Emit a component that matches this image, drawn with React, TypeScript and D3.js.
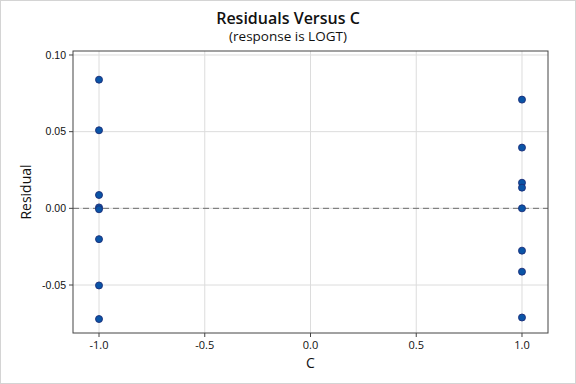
import React from "react";
import * as d3 from "d3";

const title = "Residuals Versus C";
const subtitle = "(response is LOGT)";
const xLabel = "C";
const yLabel = "Residual";

const cLow = [-1, -1, -1, -1, -1, -1, -1, -1];
const residLow = [0.0839, 0.0509, 0.0087, 0.0006, -0.0006, -0.0201, -0.0503, -0.0722];
const cHigh = [1, 1, 1, 1, 1, 1, 1, 1];
const residHigh = [0.0709, 0.0396, 0.0167, 0.0135, 0.0, -0.0276, -0.0413, -0.0712];

const xTicks = [-1.0, -0.5, 0.0, 0.5, 1.0];
const yTicks = [0.1, 0.05, 0.0, -0.05];

const W = 576;
const H = 384;
const FONT = "'Open Sans', 'Noto Sans', sans-serif";
const FONT_Y = "'Liberation Sans', Arial, sans-serif";

export default function App() {
  const x = d3.scaleLinear().domain([-1.123, 1.123]).range([73, 548]);
  const y = d3.scaleLinear().domain([-0.0813, 0.1026]).range([333, 51]);
  const points = [
    ...cLow.map((c, i) => ({ c, r: residLow[i] })),
    ...cHigh.map((c, i) => ({ c, r: residHigh[i] })),
  ];
  const [x0, x1] = x.range();
  const [y0, y1] = y.range();
  const plotCx = (x0 + x1) / 2;
  const plotCy = (y0 + y1) / 2;
  return (
    <svg width={W} height={H} style={{ position: "absolute", left: 0, top: 0 }} fontFamily={FONT}>
      <rect x={0} y={0} width={W} height={H} fill="#ffffff" />
      <rect x={0.5} y={0.5} width={W - 1} height={H - 1} fill="none" stroke="#d4d4d4" />
      {xTicks.map((t) => (
        <line key={"gx" + t} x1={x(t)} x2={x(t)} y1={y1} y2={y0} stroke="#dcdcdc" strokeWidth={1} />
      ))}
      {yTicks.map((t) => (
        <line key={"gy" + t} x1={x0} x2={x1} y1={y(t)} y2={y(t)} stroke="#dcdcdc" strokeWidth={1} />
      ))}
      <line x1={x0} x2={x1} y1={y(0)} y2={y(0)} stroke="#6e6e6e" strokeWidth={1} strokeDasharray="6,4" />
      <rect x={x0} y={y1} width={x1 - x0} height={y0 - y1} fill="none" stroke="#444444" strokeWidth={1} />
      {xTicks.map((t) => (
        <g key={"tx" + t}>
          <line x1={x(t)} x2={x(t)} y1={y0} y2={y0 + 4} stroke="#444444" />
          <text x={x(t)} y={y0 + 16} textAnchor="middle" fontSize={11} fill="#111">
            {d3.format(".1f")(t).replace("−", "-")}
          </text>
        </g>
      ))}
      {yTicks.map((t) => (
        <g key={"ty" + t}>
          <line x1={x0 - 4} x2={x0} y1={y(t)} y2={y(t)} stroke="#444444" />
          <text x={x0 - 7} y={y(t) + 3.8} textAnchor="end" fontSize={10.5} fontFamily={FONT_Y} fill="#111">
            {d3.format(".2f")(t).replace("−", "-")}
          </text>
        </g>
      ))}
      {points.map((p, i) => (
        <circle key={i} cx={x(p.c)} cy={y(p.r)} r={3.5} fill="#0a54a6" stroke="#1b2c78" strokeWidth={0.9} />
      ))}
      <text x={W / 2} y={23.5} textAnchor="middle" fontSize={16} fontWeight={600} fill="#111">{title}</text>
      <text x={W / 2} y={40.5} textAnchor="middle" fontSize={13.5} fill="#111">{subtitle}</text>
      <text x={plotCx} y={368} textAnchor="middle" fontSize={14} fill="#111">{xLabel}</text>
      <text transform={`translate(31,${plotCy}) rotate(-90)`} textAnchor="middle" fontSize={14} fill="#111">{yLabel}</text>
    </svg>
  );
}
